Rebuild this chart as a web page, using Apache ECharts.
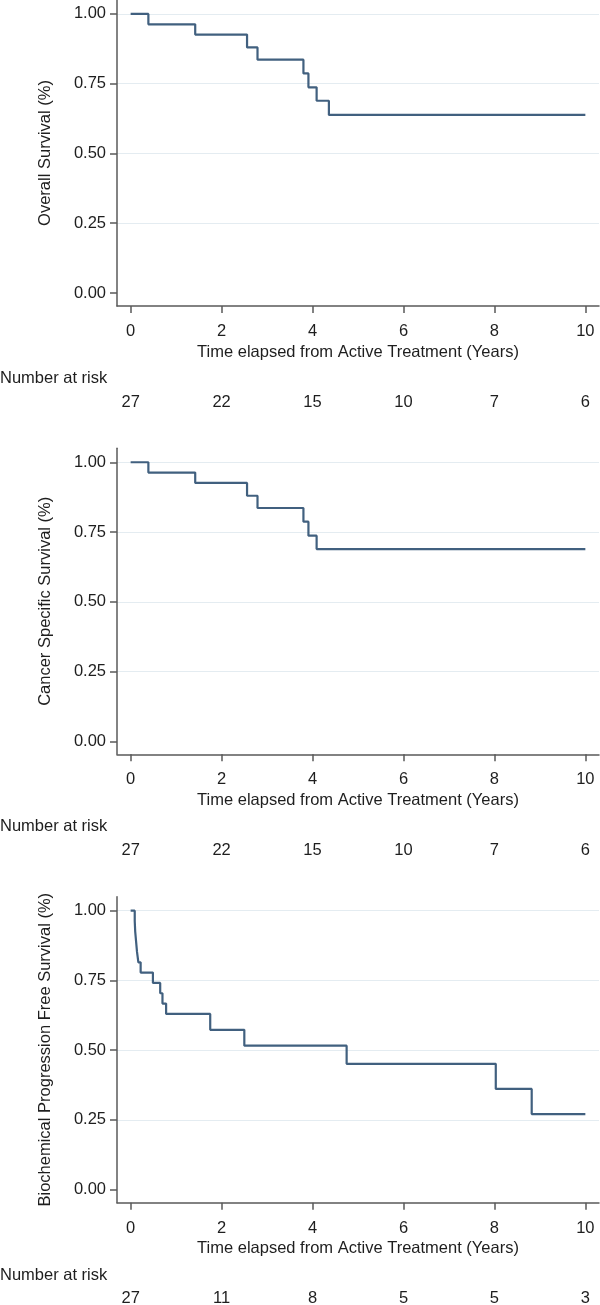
<!DOCTYPE html>
<html><head><meta charset="utf-8">
<script src="https://cdn.jsdelivr.net/npm/echarts@6/dist/echarts.min.js"></script>
<style>html,body{margin:0;padding:0;background:#fff}#c{width:600px;height:1305px}</style>
</head><body><div id="c"></div>
<script>
// ---- data ----
const xTicks = [0, 2, 4, 6, 8, 10];
const yTicks = [0, 0.25, 0.5, 0.75, 1];
const xTitle = 'Time elapsed from Active Treatment (Years)';
const riskTitle = 'Number at risk';
const yTitles = ['Overall Survival (%)', 'Cancer Specific Survival (%)', 'Biochemical Progression Free Survival (%)'];

const osTime = [0, 0.39, 1.42, 2.56, 2.79, 3.80, 3.91, 4.09, 4.36, 10];
const osSurv = [1, 0.963, 0.926, 0.880, 0.836, 0.787, 0.737, 0.689, 0.638, 0.638];
const osRisk = [27, 22, 15, 10, 7, 6];

const cssTime = [0, 0.39, 1.42, 2.56, 2.79, 3.80, 3.91, 4.09, 10];
const cssSurv = [1, 0.963, 0.926, 0.880, 0.836, 0.787, 0.737, 0.689, 0.689];
const cssRisk = [27, 22, 15, 10, 7, 6];

const bpfsTime = [0, 0.09, 0.10, 0.12, 0.14, 0.17, 0.22, 0.49, 0.65, 0.70, 0.78, 1.75, 2.50, 4.75, 8.03, 8.82, 10];
const bpfsSurv = [1, 0.963, 0.926, 0.889, 0.852, 0.815, 0.778, 0.741, 0.704, 0.667, 0.630, 0.573, 0.516, 0.451, 0.361, 0.271, 0.271];
const bpfsRisk = [27, 11, 8, 5, 5, 3];

// ---- styling ----
const FONT = "'Liberation Sans', Arial, sans-serif";
const TEXT = '#1e1e1e';
const AXIS = '#5a5a5a';
const LINE = '#41607f';
const GRIDC = '#e4ecf1';
const FS = 16.5;

const panels = [
  { yName: yTitles[0], time: osTime, surv: osSurv, risk: osRisk, top: 0, riskY: 378 },
  { yName: yTitles[1], time: cssTime, surv: cssSurv, risk: cssRisk, top: 448.3, riskY: 826.7 },
  { yName: yTitles[2], time: bpfsTime, surv: bpfsSurv, risk: bpfsRisk, top: 896.7, riskY: 1275 }
];

const grids = [], xAxes = [], yAxes = [], series = [], titles = [];
const txt = { color: TEXT, fontFamily: FONT, fontSize: FS, fontWeight: 'normal' };

panels.forEach((p, i) => {
  grids.push({ left: 117, width: 482, top: p.top, height: 306, outerBoundsMode: 'none', containLabel: false });
  xAxes.push({
    gridIndex: i, type: 'value', min: -0.3, max: 10.3,
    name: xTitle, nameLocation: 'middle', nameGap: 37.5, nameTextStyle: txt, nameMoveOverlap: false,
    axisLine: { show: true, onZero: false, lineStyle: { color: AXIS, width: 1.5 } },
    axisTick: { show: true, customValues: xTicks, length: 7, lineStyle: { color: AXIS, width: 1.5 } },
    axisLabel: Object.assign({ customValues: xTicks, margin: 17, hideOverlap: false }, txt),
    splitLine: { show: false }
  });
  xAxes.push({
    gridIndex: i, type: 'value', min: -0.3, max: 10.3, position: 'bottom', offset: 72,
    axisLine: { show: false }, axisTick: { show: false },
    axisLabel: Object.assign({ customValues: xTicks, margin: 15.5, hideOverlap: false,
      formatter: v => String(p.risk[xTicks.indexOf(v)]) }, txt),
    splitLine: { show: false }
  });
  yAxes.push({
    gridIndex: i, type: 'value', min: -0.0466, max: 1.050,
    name: p.yName, nameLocation: 'middle', nameGap: 63.5, nameTextStyle: txt, nameMoveOverlap: false,
    axisLine: { show: true, onZero: false, lineStyle: { color: AXIS, width: 1.5 } },
    axisTick: { show: true, customValues: yTicks, length: 7, lineStyle: { color: AXIS, width: 1.5 } },
    axisLabel: Object.assign({ customValues: yTicks, margin: 11, hideOverlap: false,
      formatter: v => v.toFixed(2) }, txt),
    splitLine: { show: true, lineStyle: { color: ['rgba(0,0,0,0)', GRIDC, GRIDC, GRIDC, GRIDC], width: 1 } }
  });
  titles.push({ text: riskTitle, left: 0, top: p.riskY - FS / 2, padding: 0, itemGap: 0,
    textStyle: Object.assign({}, txt) });
  series.push({
    type: 'line', xAxisIndex: 2 * i, yAxisIndex: i, step: 'end', symbol: 'none',
    silent: true, animation: false,
    data: p.time.map((t, k) => [t, p.surv[k]]),
    lineStyle: { color: LINE, width: 2.2 }
  });
});

const chart = echarts.init(document.getElementById('c'), null, { renderer: 'canvas' });
chart.setOption({
  animation: false,
  backgroundColor: '#fff',
  title: titles,
  grid: grids, xAxis: xAxes, yAxis: yAxes, series: series
});
</script></body></html>
